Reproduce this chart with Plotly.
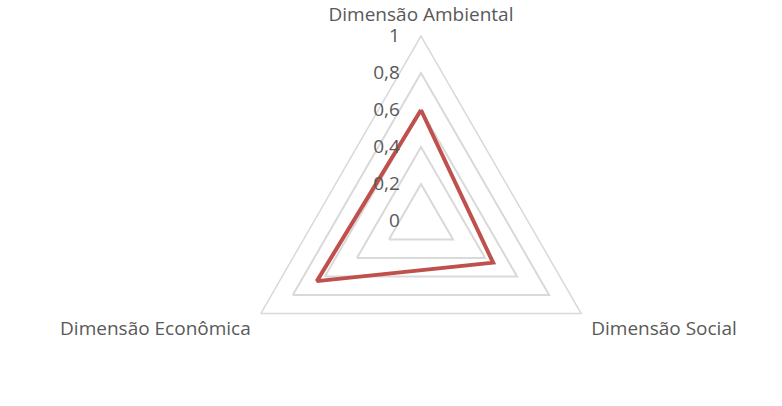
import plotly.graph_objects as go

categories = ["Dimensão Ambiental", "Dimensão Social", "Dimensão Econômica"]
values = [0.6, 0.45, 0.65]
radial_ticks = [0, 0.2, 0.4, 0.6, 0.8, 1]
radial_tick_labels = ["0", "0,2", "0,4", "0,6", "0,8", "1"]

FONT = "Open Sans"
TEXT = "#595959"
GRID = "#D9D9D9"

fig = go.Figure()
fig.add_trace(go.Scatterpolar(
    r=values + values[:1],
    theta=categories + categories[:1],
    mode="lines",
    line=dict(color="#C0504D", width=4),
    showlegend=False,
    hoverinfo="skip",
))

fig.update_layout(
    width=782, height=406,
    margin=dict(l=0, r=0, t=36, b=0),
    paper_bgcolor="white",
    font=dict(family=FONT, color=TEXT, size=19),
    polar=dict(
        bgcolor="white",
        gridshape="linear",
        domain=dict(x=[0.0767, 1.0], y=[0, 1]),
        radialaxis=dict(
            range=[0, 1],
            tickvals=radial_ticks,
            ticktext=radial_tick_labels,
            angle=90,
            tickangle=90,
            side="counterclockwise",
            showline=False,
            ticks="outside",
            ticklen=14,
            tickcolor="rgba(0,0,0,0)",
            gridcolor=GRID,
            gridwidth=1.5,
            tickfont=dict(family=FONT, color=TEXT, size=19),
        ),
        angularaxis=dict(
            rotation=90,
            direction="clockwise",
            showgrid=False,
            showline=True,
            linecolor=GRID,
            linewidth=1.5,
            ticks="outside",
            ticklen=7,
            tickcolor="rgba(0,0,0,0)",
            tickfont=dict(family=FONT, color=TEXT, size=19),
        ),
    ),
)

fig.write_html("out.html")
